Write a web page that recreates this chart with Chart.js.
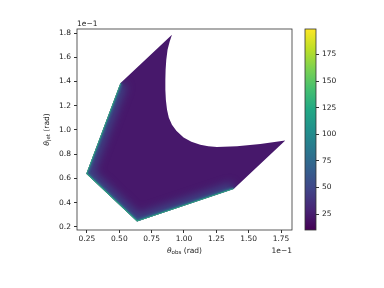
<!DOCTYPE html>
<html>
<head>
<meta charset="utf-8">
<script src="https://cdn.jsdelivr.net/npm/chart.js@4.4.1/dist/chart.umd.min.js"></script>
<style>
  body { margin: 0; background: #fff; }
  .wrap { position: relative; width: 384px; height: 288px; }
  canvas { position: absolute; left: 0; top: 0; }
</style>
</head>
<body>
<div class="wrap">
  <canvas id="main" width="384" height="288"></canvas>
  <canvas id="cbar" width="384" height="288"></canvas>
</div>
<script>
// outline of the allowed region (theta_obs, theta_jet), in units of 1e-1 rad
const regionObs = [0.245, 0.508, 0.907, 0.889, 0.873, 0.863, 0.858, 0.856, 0.856, 0.860, 0.869, 0.883, 0.907, 0.941, 0.997, 1.057, 1.126, 1.188, 1.255, 1.410, 1.590, 1.783, 1.384, 0.637];
const regionJet = [0.640, 1.385, 1.786, 1.728, 1.662, 1.578, 1.497, 1.413, 1.332, 1.248, 1.167, 1.101, 1.044, 0.994, 0.937, 0.903, 0.879, 0.866, 0.860, 0.865, 0.885, 0.914, 0.513, 0.246];
const xTicks = [0.25, 0.50, 0.75, 1.00, 1.25, 1.50, 1.75];
const yTicks = [0.2, 0.4, 0.6, 0.8, 1.0, 1.2, 1.4, 1.6, 1.8];
const cbTicks = [25, 50, 75, 100, 125, 150, 175];
const cbRange = [10, 199];

const viridis = ['#440154', '#482475', '#414487', '#355f8d', '#2a788e', '#21918c', '#22a884', '#44bf70', '#7ad151', '#bddf26', '#fde725'];

Chart.defaults.font.family = 'DejaVu Sans';
Chart.defaults.font.size = 7.5;
Chart.defaults.color = '#222';
Chart.defaults.animation = false;

function drawSub(ctx, parts, cx, cy, rotate) {
  // parts: [text, size, italic, dy]
  ctx.save();
  ctx.translate(cx, cy);
  if (rotate) ctx.rotate(-Math.PI / 2);
  let total = 0;
  parts.forEach(p => {
    ctx.font = (p[2] ? 'italic ' : '') + p[1] + 'px DejaVu Sans';
    p.w = ctx.measureText(p[0]).width;
    total += p.w;
  });
  let x = -total / 2;
  ctx.fillStyle = '#222';
  ctx.textBaseline = 'middle';
  parts.forEach(p => {
    ctx.font = (p[2] ? 'italic ' : '') + p[1] + 'px DejaVu Sans';
    ctx.fillText(p[0], x, p[3]);
    x += p.w;
  });
  ctx.restore();
}

const regionPlugin = {
  id: 'region',
  beforeDatasetsDraw(chart) {
    const ctx = chart.ctx;
    const pts = chart.getDatasetMeta(0).data;
    const n = pts.length;
    ctx.save();
    ctx.beginPath();
    pts.forEach((p, i) => i ? ctx.lineTo(p.x, p.y) : ctx.moveTo(p.x, p.y));
    ctx.closePath();
    ctx.fillStyle = '#47186b';
    ctx.fill();
    ctx.clip();
    // lighter band along the lower-left edges
    const chain = [pts[n - 2], pts[n - 1], pts[0], pts[1]];
    const path = () => {
      ctx.beginPath();
      chain.forEach((p, i) => i ? ctx.lineTo(p.x, p.y) : ctx.moveTo(p.x, p.y));
    };
    ctx.lineJoin = 'round';
    ctx.filter = 'blur(4px)';
    path();
    ctx.lineWidth = 14;
    ctx.strokeStyle = 'rgba(58,82,140,0.75)';
    ctx.stroke();
    ctx.filter = 'blur(1px)';
    path();
    ctx.lineWidth = 4;
    ctx.strokeStyle = 'rgba(40,130,142,0.7)';
    ctx.stroke();
    ctx.filter = 'none';
    path();
    ctx.lineWidth = 1.6;
    ctx.strokeStyle = 'rgba(45,180,125,0.9)';
    ctx.stroke();
    ctx.restore();
  },
  afterDraw(chart) {
    const ctx = chart.ctx;
    const a = chart.chartArea;
    ctx.save();
    ctx.strokeStyle = '#333';
    ctx.lineWidth = 0.8;
    ctx.strokeRect(a.left, a.top, a.right - a.left, a.bottom - a.top);
    ctx.fillStyle = '#222';
    ctx.font = '7.5px DejaVu Sans';
    ctx.textBaseline = 'alphabetic';
    ctx.textAlign = 'left';
    ctx.fillText('1e\u22121', a.left, a.top - 3);
    ctx.textAlign = 'right';
    ctx.fillText('1e\u22121', a.right, a.bottom + 23);
    ctx.restore();
    drawSub(ctx, [['\u03b8', 7.5, true, 0], ['obs', 5.5, false, 1.8], [' (rad)', 7.5, false, 0]], (a.left + a.right) / 2, 251, false);
    drawSub(ctx, [['\u03b8', 7.5, true, 0], ['jet', 5.5, false, 1.8], [' (rad)', 7.5, false, 0]], 47, (a.top + a.bottom) / 2, true);
  }
};

new Chart(document.getElementById('main'), {
  type: 'scatter',
  data: {
    datasets: [{
      data: regionObs.map((x, i) => ({ x: x, y: regionJet[i] })),
      pointRadius: 0,
      showLine: false
    }]
  },
  options: {
    responsive: false,
    layout: { padding: { left: 0, top: 29, right: 92, bottom: 0 } },
    plugins: { legend: { display: false }, tooltip: { enabled: false } },
    scales: {
      x: {
        type: 'linear', min: 0.173, max: 1.835,
        afterBuildTicks: s => { s.ticks = xTicks.map(v => ({ value: v })); },
        afterFit: s => { s.height = 58; },
        ticks: { callback: v => v.toFixed(2), maxRotation: 0, padding: 2 },
        grid: { drawOnChartArea: false, tickLength: 3, color: '#333' },
        border: { display: false }
      },
      y: {
        type: 'linear', min: 0.175, max: 1.833,
        afterBuildTicks: s => { s.ticks = yTicks.map(v => ({ value: v })); },
        afterFit: s => { s.width = 77; },
        ticks: { callback: v => v.toFixed(1), padding: 3 },
        grid: { drawOnChartArea: false, tickLength: 3, color: '#333' },
        border: { display: false }
      }
    }
  },
  plugins: [regionPlugin]
});

const cbFrame = {
  id: 'cbFrame',
  afterDraw(chart) {
    const a = chart.chartArea;
    const ctx = chart.ctx;
    ctx.save();
    ctx.strokeStyle = '#333';
    ctx.lineWidth = 0.8;
    ctx.strokeRect(a.left, a.top, a.right - a.left, a.bottom - a.top);
    ctx.restore();
  }
};

new Chart(document.getElementById('cbar'), {
  type: 'bar',
  data: {
    labels: ['cb'],
    datasets: [{
      data: [cbRange],
      barPercentage: 1,
      categoryPercentage: 1,
      borderWidth: 0,
      backgroundColor: c => {
        const a = c.chart.chartArea;
        if (!a) return viridis[0];
        const g = c.chart.ctx.createLinearGradient(0, a.bottom, 0, a.top);
        viridis.forEach((col, i) => g.addColorStop(i / (viridis.length - 1), col));
        return g;
      }
    }]
  },
  options: {
    responsive: false,
    layout: { padding: { left: 305, top: 29, right: 0, bottom: 58 } },
    plugins: { legend: { display: false }, tooltip: { enabled: false } },
    scales: {
      x: { display: false },
      y: {
        position: 'right', min: cbRange[0], max: cbRange[1],
        afterBuildTicks: s => { s.ticks = cbTicks.map(v => ({ value: v })); },
        afterFit: s => { s.width = 68; },
        ticks: { padding: 3 },
        grid: { drawOnChartArea: false, tickLength: 3, color: '#333' },
        border: { display: false }
      }
    }
  },
  plugins: [cbFrame]
});
</script>
</body>
</html>
